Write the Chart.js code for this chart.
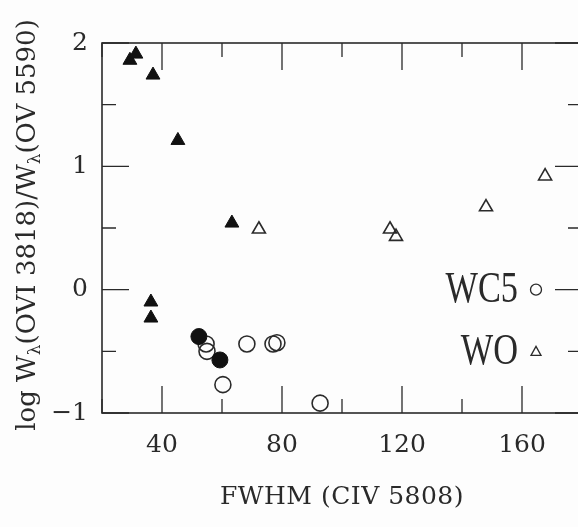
<!DOCTYPE html>
<html>
<head>
<meta charset="utf-8">
<script src="https://cdn.jsdelivr.net/npm/chart.js@4.4.1/dist/chart.umd.min.js"></script>
<style>
  html, body { margin: 0; padding: 0; background: #fdfdfd; overflow: hidden; }
  #wrap { width: 600px; height: 527px; }
</style>
</head>
<body>
<div id="wrap"><canvas id="myChart" width="600" height="527"></canvas></div>
<script>
// FWHM (CIV 5808) vs log ratio
const woFilledX = [29.3, 31.3, 37, 45.3, 63.3, 36.3, 36.3];
const woFilledY = [1.86, 1.91, 1.74, 1.21, 0.54, -0.1, -0.23];

const woOpenX = [72.3, 116, 118, 148, 167.7];
const woOpenY = [0.49, 0.49, 0.43, 0.67, 0.92];

const wcFilledX = [52.3, 59.3];
const wcFilledY = [-0.38, -0.57];

const wcOpenX = [54.7, 55, 60.3, 68.3, 77, 78.3, 92.7];
const wcOpenY = [-0.44, -0.5, -0.77, -0.44, -0.44, -0.43, -0.92];

const xTicks = [40, 80, 120, 160];
const yTicks = [-1, 0, 1, 2];
const legendLabels = ["WC5", "WO"];

const ink = "#2a2a2a";
const serif = "'DejaVu Serif', serif";

function pts(xs, ys) {
  return xs.map((x, i) => ({ x: x, y: ys[i] }));
}

const framePlugin = {
  id: "frame",
  beforeDatasetsDraw(chart) {
    const ctx = chart.ctx;
    const a = chart.chartArea;
    const xs = chart.scales.x;
    const ys = chart.scales.y;
    ctx.save();
    ctx.strokeStyle = ink;
    ctx.lineWidth = 1.6;
    ctx.strokeRect(a.left, a.top, a.right - a.left, a.bottom - a.top);
    ctx.lineWidth = 1.3;
    ctx.beginPath();
    for (let v = 20; v <= 180; v += 20) {
      const px = xs.getPixelForValue(v);
      const len = v % 40 === 0 ? 27 : 14;
      ctx.moveTo(px, a.bottom);
      ctx.lineTo(px, a.bottom - len);
      ctx.moveTo(px, a.top);
      ctx.lineTo(px, a.top + len);
    }
    for (let v = -1; v <= 2; v += 0.5) {
      const py = ys.getPixelForValue(v);
      const len = Number.isInteger(v) ? 27 : 14;
      ctx.moveTo(a.left, py);
      ctx.lineTo(a.left + len, py);
      ctx.moveTo(a.right, py);
      ctx.lineTo(a.right - len, py);
    }
    ctx.stroke();
    ctx.restore();
  },
  afterDraw(chart) {
    const ctx = chart.ctx;
    const a = chart.chartArea;
    const ys = chart.scales.y;
    ctx.save();
    ctx.fillStyle = ink;
    ctx.strokeStyle = ink;

    // x title
    ctx.font = "25px " + serif;
    ctx.letterSpacing = "0.5px";
    ctx.textAlign = "center";
    ctx.textBaseline = "middle";
    ctx.fillText("FWHM (CIV 5808)", 342, 497);
    ctx.letterSpacing = "0px";

    // y title with subscript lambda
    const parts = [
      ["log W", false], ["\u03bb", true], ["(OVI 3818)/W", false],
      ["\u03bb", true], ["(OV 5590)", false]
    ];
    const big = "26px " + serif;
    const small = "17px " + serif;
    let total = 0;
    parts.forEach((p) => {
      ctx.font = p[1] ? small : big;
      total += ctx.measureText(p[0]).width;
    });
    ctx.translate(28, 225);
    ctx.rotate(-Math.PI / 2);
    ctx.textAlign = "left";
    ctx.textBaseline = "middle";
    let cx = -total / 2;
    parts.forEach((p) => {
      ctx.font = p[1] ? small : big;
      ctx.fillText(p[0], cx, p[1] ? 8 : 0);
      cx += ctx.measureText(p[0]).width;
    });
    ctx.setTransform(1, 0, 0, 1, 0, 0);

    // legend
    const rows = [ys.getPixelForValue(0), ys.getPixelForValue(-0.5)];
    const lx = a.right - 46;
    ctx.textAlign = "right";
    ctx.textBaseline = "middle";
    legendLabels.forEach((t, i) => {
      ctx.save();
      ctx.translate(518, rows[i] + 1);
      ctx.scale(0.78, 1);
      ctx.font = "44px 'Liberation Serif', serif";
      ctx.fillText(t, 0, 0);
      ctx.restore();
    });
    ctx.lineWidth = 1.3;
    ctx.beginPath();
    ctx.arc(lx, rows[0], 5.5, 0, Math.PI * 2);
    ctx.stroke();
    ctx.beginPath();
    ctx.moveTo(lx, rows[1] - 5);
    ctx.lineTo(lx + 5, rows[1] + 4);
    ctx.lineTo(lx - 5, rows[1] + 4);
    ctx.closePath();
    ctx.stroke();
    ctx.restore();
  }
};

const ctx = document.getElementById("myChart").getContext("2d");

const myChart = new Chart(ctx, {
  type: "scatter",
  data: {
    datasets: [
      {
        label: "WO filled",
        data: pts(woFilledX, woFilledY),
        pointStyle: "triangle",
        pointRadius: 8,
        backgroundColor: "#111",
        borderColor: "#111",
        borderWidth: 1,
      },
      {
        label: "WO",
        data: pts(woOpenX, woOpenY),
        pointStyle: "triangle",
        pointRadius: 7.5,
        backgroundColor: "rgba(0,0,0,0)",
        borderColor: ink,
        borderWidth: 1.6,
      },
      {
        label: "WC5 filled",
        data: pts(wcFilledX, wcFilledY),
        pointStyle: "circle",
        pointRadius: 8,
        backgroundColor: "#111",
        borderColor: "#111",
        borderWidth: 1,
      },
      {
        label: "WC5",
        data: pts(wcOpenX, wcOpenY),
        pointStyle: "circle",
        pointRadius: 8,
        backgroundColor: "rgba(0,0,0,0)",
        borderColor: ink,
        borderWidth: 1.6,
      },
    ],
  },
  options: {
    responsive: false,
    animation: false,
    layout: { padding: { left: 0, top: 43, right: 18, bottom: 0 } },
    plugins: {
      legend: { display: false },
      tooltip: { enabled: false },
    },
    scales: {
      x: {
        type: "linear",
        min: 20,
        max: 180,
        grid: { display: false, drawTicks: false },
        border: { display: false },
        afterFit: (scale) => { scale.height = 114; },
        afterBuildTicks: (scale) => {
          scale.ticks = xTicks.map((v) => ({ value: v }));
        },
        ticks: {
          padding: 17,
          color: ink,
          font: { family: serif, size: 25 },
          maxRotation: 0,
        },
      },
      y: {
        type: "linear",
        min: -1,
        max: 2,
        grid: { display: false, drawTicks: false },
        border: { display: false },
        afterFit: (scale) => { scale.width = 102; },
        afterBuildTicks: (scale) => {
          scale.ticks = yTicks.map((v) => ({ value: v }));
        },
        ticks: {
          padding: 14,
          color: ink,
          font: { family: serif, size: 25 },
          callback: (v) => (v < 0 ? "\u2212" + Math.abs(v) : String(v)),
        },
      },
    },
  },
  plugins: [framePlugin],
});
</script>
</body>
</html>
